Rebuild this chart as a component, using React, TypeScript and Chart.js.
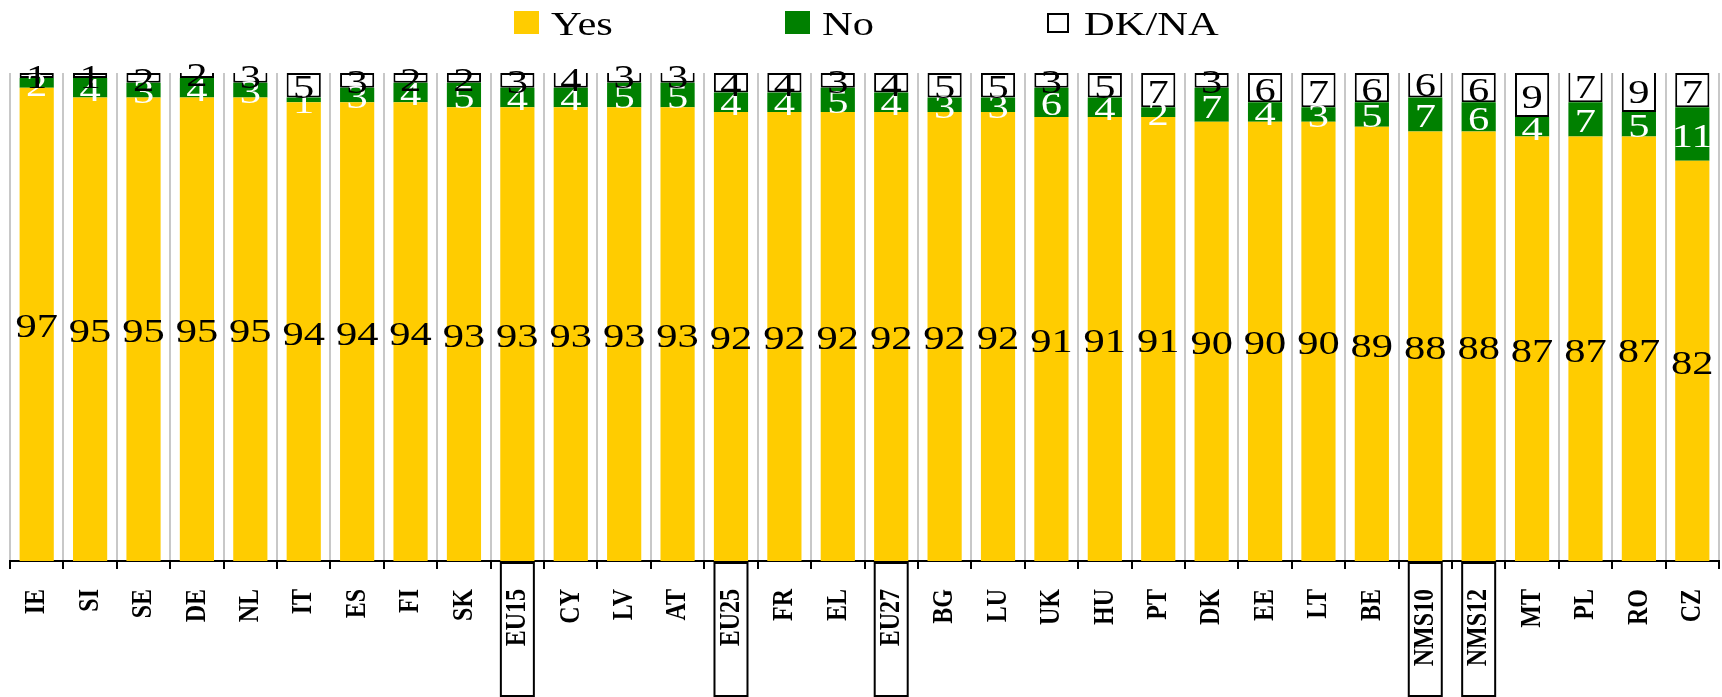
import React, { useEffect, useRef } from "react";
import { Chart, registerables } from "chart.js";

Chart.register(...registerables);

const categories = ["IE","SI","SE","DE","NL","IT","ES","FI","SK","EU15","CY","LV","AT","EU25","FR","EL","EU27","BG","LU","UK","HU","PT","DK","EE","LT","BE","NMS10","NMS12","MT","PL","RO","CZ"];
const yesValues = [97,95,95,95,95,94,94,94,93,93,93,93,93,92,92,92,92,92,92,91,91,91,90,90,90,89,88,88,87,87,87,82];
const noValues = [2,4,3,4,3,1,3,4,5,4,4,5,5,4,4,5,4,3,3,6,4,2,7,4,3,5,7,6,4,7,5,11];
const dkValues = [1,1,2,2,3,5,3,2,2,3,4,3,3,4,4,3,4,5,5,3,5,7,3,6,7,6,6,6,9,7,9,7];
const boxedCategories = ["EU15","EU25","EU27","NMS10","NMS12"];
const seriesNames = ["Yes","No","DK/NA"];
const seriesColors = ["#FFCC00","#008000","#FFFFFF"];
const labelColors = ["#000000","#FFFFFF","#000000"];

const STRETCH = 1.25;
const SERIF = "'Liberation Serif', 'Times New Roman', serif";

const textPlugin = {
  id: "customText",
  afterDatasetsDraw(chart: any) {
    const ctx = chart.ctx;
    ctx.save();
    ctx.font = `34px ${SERIF}`;
    ctx.textAlign = "center";
    ctx.textBaseline = "middle";
    const allValues = [yesValues, noValues, dkValues];
    [0, 1, 2].forEach((di) => {
      const meta = chart.getDatasetMeta(di);
      meta.data.forEach((bar: any, i: number) => {
        const p = bar.getProps(["x", "y", "base"], true);
        const cy = (p.y + p.base) / 2 + 4;
        ctx.save();
        ctx.fillStyle = labelColors[di];
        ctx.translate(p.x, cy);
        ctx.scale(STRETCH, 1);
        ctx.fillText(String(allValues[di][i]), 0, 0);
        ctx.restore();
      });
    });
    ctx.restore();
  },
  afterDraw(chart: any) {
    const ctx = chart.ctx;
    const xScale = chart.scales.x;
    const area = chart.chartArea;
    const H = chart.height;
    ctx.save();
    // x tick labels
    ctx.font = `bold 24px ${SERIF}`;
    ctx.fillStyle = "#000";
    ctx.textAlign = "right";
    ctx.textBaseline = "middle";
    categories.forEach((c, i) => {
      const x = xScale.getPixelForValue(i);
      ctx.save();
      ctx.translate(x, area.bottom + 28);
      ctx.scale(STRETCH, 1);
      ctx.rotate(-Math.PI / 2);
      ctx.fillText(c, 0, 0);
      ctx.restore();
      if (boxedCategories.includes(c)) {
        ctx.strokeStyle = "#000";
        ctx.lineWidth = 2;
        ctx.strokeRect(x - 16.5, area.bottom + 2, 33, H - area.bottom - 3);
      }
    });
    // legend
    const legendX = [514, 785, 1047];
    ctx.font = `34px ${SERIF}`;
    ctx.textAlign = "left";
    ctx.textBaseline = "alphabetic";
    seriesNames.forEach((name, i) => {
      const bx = legendX[i];
      if (i < 2) {
        ctx.fillStyle = seriesColors[i];
        ctx.fillRect(bx, 11, 25, 23);
      } else {
        ctx.fillStyle = "#fff";
        ctx.fillRect(bx, 13, 22, 20);
        ctx.strokeStyle = "#000";
        ctx.lineWidth = 2;
        ctx.strokeRect(bx + 1, 14, 20, 18);
      }
      ctx.save();
      ctx.fillStyle = "#000";
      ctx.translate(bx + 37, 35);
      ctx.scale(STRETCH, 1);
      ctx.fillText(name, 0, 0);
      ctx.restore();
    });
    ctx.restore();
  },
};

export default function App() {
  const canvasRef = useRef<HTMLCanvasElement | null>(null);

  useEffect(() => {
    if (!canvasRef.current) return;
    const chart = new Chart(canvasRef.current, {
      type: "bar",
      data: {
        labels: categories,
        datasets: [
          {
            label: seriesNames[0],
            data: yesValues,
            backgroundColor: seriesColors[0],
            borderWidth: 0,
          },
          {
            label: seriesNames[1],
            data: noValues,
            backgroundColor: seriesColors[1],
            borderWidth: 0,
          },
          {
            label: seriesNames[2],
            data: dkValues,
            backgroundColor: seriesColors[2],
            borderColor: "#000000",
            borderWidth: 2,
            borderSkipped: false,
          },
        ],
      },
      options: {
        animation: false,
        responsive: true,
        maintainAspectRatio: false,
        devicePixelRatio: 1,
        datasets: { bar: { barPercentage: 0.64, categoryPercentage: 1 } },
        layout: { padding: { top: 73, left: 10, right: 3, bottom: 0 } },
        plugins: { legend: { display: false }, tooltip: { enabled: false } },
        scales: {
          x: {
            stacked: true,
            grid: {
              offset: true,
              color: "#c8c8c8",
              lineWidth: 2,
              tickColor: "#000000",
              tickLength: 8,
              tickWidth: 2,
              drawTicks: true,
            },
            border: { display: true, color: "#000000", width: 2 },
            ticks: { display: false },
            afterFit: (scale: any) => {
              scale.height = 136;
            },
          },
          y: {
            stacked: true,
            display: false,
            min: 0,
            max: 100,
          },
        },
      },
      plugins: [textPlugin],
    });
    return () => chart.destroy();
  }, []);

  return (
    <div style={{ position: "absolute", left: 0, top: 0, width: 1722, height: 697, background: "#fff" }}>
      <canvas ref={canvasRef} />
    </div>
  );
}
